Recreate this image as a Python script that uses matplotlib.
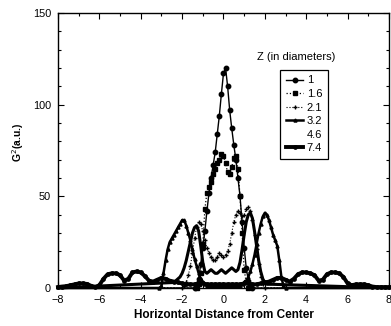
import numpy as np
import matplotlib
matplotlib.use("Agg")
import matplotlib.pyplot as plt
from matplotlib.lines import Line2D

plt.rcParams['font.family'] = ['Liberation Sans', 'DejaVu Sans']

# G^2 profiles, sampled every 0.1 diameters (7.4 every 0.2)
z1_start = -1.4
z1 = [0, 2, 5, 13, 22, 31, 42, 52, 60, 67, 74, 84, 94, 106, 117, 120, 110, 97, 87,
      78, 70, 60, 50, 36, 22, 11, 4, 1, 0]

z16_start = -1.3
z16 = [0, 2, 8, 24, 43, 52, 55, 58, 62, 65, 68, 70, 73, 72, 68, 63, 62, 66, 71, 72,
       65, 50, 30, 10, 3, 0]

z21_start = -2.0
z21 = [0, 1, 3, 7, 12, 19, 27, 33, 36, 35, 31, 26, 22, 19, 17, 15, 15, 17, 19, 18,
       17, 18, 20, 24, 30, 36, 40, 42, 41, 39, 40, 43, 44, 42, 37, 29, 21, 13, 6, 2, 0]

z32_start = -3.1
z32 = [0, 1, 8, 15, 21, 25, 27, 29, 31, 33, 35, 37, 37, 34, 30, 26, 21, 16, 12, 8,
       5, 3, 2, 1, 1, 1, 1, 1, 1, 1, 1, 1, 1, 1, 1, 1, 1, 1, 1, 1,
       2, 3, 4, 6, 9, 13, 18, 24, 30, 35, 39, 41, 40, 37, 33, 29, 26, 23, 15, 6,
       1, 0]

z46_start = -2.4
z46 = [3, 4, 5, 6, 8, 11, 15, 20, 25, 30, 33, 34, 31, 23, 14, 9, 8, 9, 10, 9,
       8, 8, 9, 10, 9, 8, 9, 10, 11, 10, 9, 10, 14, 21, 29, 36, 40, 41, 38, 31,
       23, 15, 9, 5, 3, 2, 2, 2, 2]

z74_start = -8.0
z74 = [0.5, 0.8, 1, 1.5, 2, 2.5, 2.5, 2.2, 1.2, 0.5, 1.5, 5, 7.5, 8, 8, 7, 4, 5, 8.5, 9,
       8.5, 6.5, 4, 3.5, 4.5, 5.5, 5, 4, 3.5, 3,
       2.5, 2, 2, 2, 2.5, 2.5, 2, 2, 2, 2, 2, 2, 2, 2, 2, 2.5, 2.5, 2, 2, 2.5, 3,
       3.5, 4.5, 5.5, 5.5, 4.5, 3.5, 5, 7.5, 8.5, 8.5, 8, 7, 4, 4.5, 7.5, 8.5, 8.5, 8,
       6, 2.5, 1.5, 2, 2, 2, 1.5, 0.8, 0.5, 0.5, 0.5, 0.5]

labels = ["1", "1.6", "2.1", "3.2", "4.6", "7.4"]


def grid(start, vals, step=0.1):
    return start + step * np.arange(len(vals))


def padded(start, vals):
    # curves are zero outside their lobes, drawn out to the plot edges
    x = np.concatenate([[-8.0], grid(start, vals), [8.0]])
    y = np.concatenate([[0.0], vals, [0.0]])
    return x, y


fig = plt.figure(figsize=(3.91, 3.26), dpi=100)
ax = fig.add_axes([0.1483, 0.1166, 0.8465, 0.8436])

kw = dict(color="black", clip_on=False, markevery=slice(1, -1))

x74 = grid(z74_start, z74, 0.2)
h74, = ax.plot(x74, z74, color="black", lw=2.8, marker="o", ms=2.4, clip_on=False)

x, y = padded(z46_start, z46)
h46, = ax.plot(x, y, color="black", lw=2.2, clip_on=False)

x, y = padded(z32_start, z32)
h32, = ax.plot(x, y, lw=1.8, marker="^", ms=2.2, **kw)

x, y = padded(z21_start, z21)
h21, = ax.plot(x, y, lw=0.8, ls=":", marker="+", ms=3.5, mew=1.0, **kw)

x, y = padded(z16_start, z16)
h16, = ax.plot(x, y, lw=0.9, ls=":", marker="s", ms=3.0, **kw)

x, y = padded(z1_start, z1)
h1, = ax.plot(x, y, lw=1.0, marker="o", ms=3.2, **kw)

blank = Line2D([], [], ls="none", marker="none")
leg = ax.legend([h1, h16, h21, h32, blank, h74], labels,
                loc="upper left", bbox_to_anchor=(0.671, 0.793), borderaxespad=0,
                fontsize=8, handlelength=1.6, handletextpad=0.3, labelspacing=0.32,
                borderpad=0.5, fancybox=False, framealpha=1, edgecolor="black")
leg.get_frame().set_linewidth(0.9)
ax.text(0.72, 0.84, "Z (in diameters)", transform=ax.transAxes, fontsize=8,
        ha="center", va="center")

ax.set_xlim(-8, 8)
ax.set_ylim(0, 150)
ax.set_xticks(np.arange(-8, 9, 2))
ax.set_xticks(np.arange(-8, 9, 1), minor=True)
ax.set_yticks([0, 50, 100, 150])
ax.set_yticks(np.arange(0, 151, 10), minor=True)
ax.tick_params(which="both", direction="in", top=True, right=True,
               labelsize=7.8, width=0.8)
ax.tick_params(which="major", length=4, pad=5)
ax.tick_params(which="minor", length=2.5)
for s in ax.spines.values():
    s.set_linewidth(1.0)

ax.set_xlabel("Horizontal Distance from Center", fontsize=8.5, fontweight="bold",
              labelpad=3)
fig.text(18 / 391, 1 - 142 / 326, "G$^2$(a.u.)", rotation=90, fontsize=7.5,
         fontweight="bold", ha="center", va="center")

fig.savefig("out.png", dpi=100, facecolor="white")
